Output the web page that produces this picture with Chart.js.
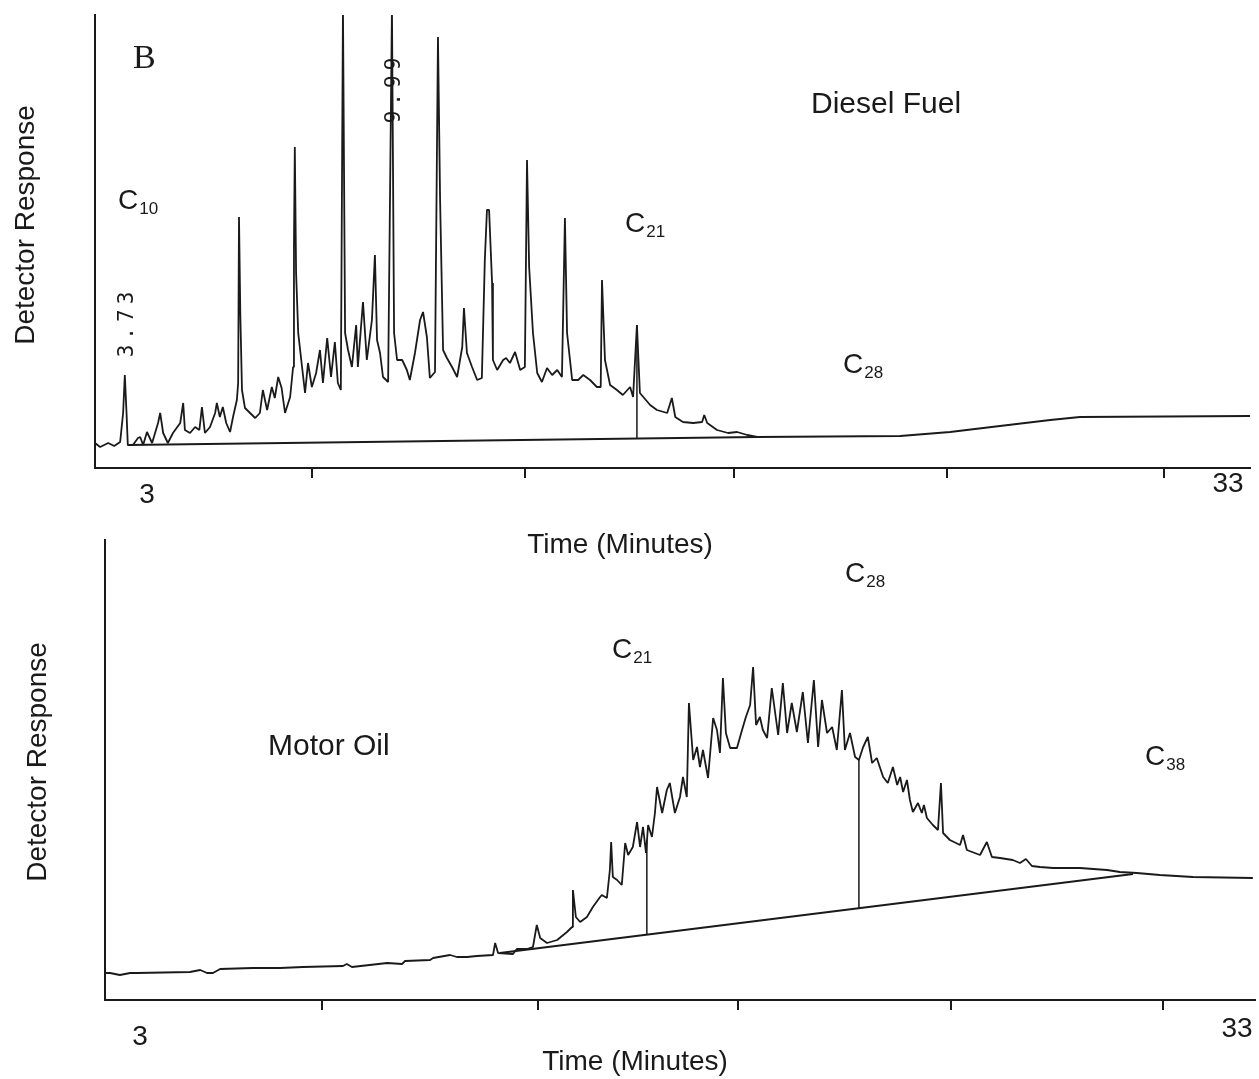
<!DOCTYPE html>
<html>
<head>
<meta charset="utf-8">
<script src="https://cdn.jsdelivr.net/npm/chart.js@4.4.0/dist/chart.umd.min.js"></script>
<style>
  body { margin: 0; background: #fff; }
  #wrap { position: relative; width: 1259px; height: 1079px; background: #fff; }
  canvas { position: absolute; left: 0; }
  #top { top: 0; }
  #bottom { top: 530px; }
</style>
</head>
<body>
<div id="wrap">
  <canvas id="top" width="1259" height="570"></canvas>
  <canvas id="bottom" width="1259" height="549"></canvas>
</div>
<script>
// Diesel fuel chromatogram: [time (min), detector response]
const dieselTrace = [
  [3.00,25],[3.12,21],[3.31,25],[3.45,22],[3.59,26],[3.66,55],[3.70,93],[3.74,55],[3.77,23],[3.89,23],
  [4.01,30],[4.06,31],[4.13,23],[4.22,36],[4.34,25],[4.48,45],[4.53,55],[4.60,35],[4.71,25],[4.83,35],
  [5.00,45],[5.07,65],[5.11,38],[5.23,35],[5.35,41],[5.45,38],[5.51,61],[5.58,35],[5.70,41],[5.82,55],
  [5.86,65],[5.93,51],[6.00,61],[6.08,45],[6.17,36],[6.24,51],[6.33,68],[6.36,85],[6.38,251],[6.41,155],
  [6.45,78],[6.52,60],[6.64,55],[6.76,50],[6.87,55],[6.94,78],[7.04,58],[7.15,81],[7.22,70],[7.30,91],
  [7.38,80],[7.46,55],[7.58,71],[7.65,101],[7.67,221],[7.69,321],[7.72,195],[7.77,135],[7.86,101],[7.93,75],
  [8.00,105],[8.09,81],[8.19,95],[8.28,118],[8.35,85],[8.45,130],[8.54,91],[8.63,126],[8.70,85],[8.77,78],
  [8.82,460],[8.87,135],[8.94,118],[9.03,101],[9.13,143],[9.17,101],[9.29,166],[9.38,108],[9.50,148],[9.57,213],
  [9.62,128],[9.69,115],[9.76,91],[9.88,86],[9.97,460],[10.02,135],[10.09,108],[10.21,108],[10.32,98],[10.39,88],
  [10.51,115],[10.63,148],[10.70,156],[10.79,131],[10.86,90],[10.98,96],[11.05,431],[11.10,268],[11.17,118],[11.26,110],
  [11.38,101],[11.50,91],[11.62,121],[11.66,160],[11.73,115],[11.85,101],[11.97,88],[12.08,90],[12.15,208],[12.20,258],
  [12.25,258],[12.32,185],[12.34,108],[12.44,98],[12.58,108],[12.65,110],[12.74,105],[12.86,116],[12.98,98],[13.09,101],
  [13.14,308],[13.19,201],[13.28,135],[13.38,95],[13.49,86],[13.61,100],[13.73,93],[13.85,98],[13.96,91],[14.03,250],
  [14.08,135],[14.20,88],[14.34,88],[14.46,93],[14.62,88],[14.78,81],[14.87,81],[14.90,188],[14.97,108],[15.09,83],
  [15.25,78],[15.39,73],[15.56,81],[15.63,71],[15.72,143],[15.79,75],[16.03,63],[16.19,58],[16.43,55],[16.54,70],
  [16.62,51],[16.80,46],[17.04,45],[17.25,46],[17.30,53],[17.37,45],[17.60,38],[17.86,35],[18.07,36],[18.31,33],
  [18.54,31],[21.90,32],[23.07,36],[24.24,42],[25.42,48],[26.12,51],[30.11,52]
];
const dieselBaseline = [[3.77,23],[18.54,31]];
const dieselDrop = [[15.72,143],[15.72,30]];

// Motor oil chromatogram
const oilTrace = [
  [3.00,27],[3.12,27],[3.35,25],[3.59,27],[3.75,27],[5.00,28],[5.24,30],[5.40,27],[5.54,27],[5.71,31],
  [6.48,32],[7.12,32],[7.66,33],[8.60,34],[8.69,36],[8.81,33],[9.64,37],[9.99,36],[10.06,39],[10.65,40],
  [10.72,42],[11.12,45],[11.28,43],[11.52,43],[11.75,44],[12.13,45],[12.18,57],[12.25,47],[12.60,46],[12.69,51],
  [12.93,51],[13.07,53],[13.16,75],[13.24,62],[13.40,57],[13.64,60],[13.87,68],[13.99,73],[14.01,110],[14.08,83],
  [14.18,78],[14.34,83],[14.48,93],[14.65,103],[14.69,105],[14.81,102],[14.88,130],[14.91,158],[14.95,123],[15.05,120],
  [15.16,115],[15.24,157],[15.31,145],[15.42,153],[15.52,178],[15.59,153],[15.66,173],[15.73,147],[15.78,175],[15.87,163],
  [15.94,187],[15.99,213],[16.11,187],[16.22,210],[16.29,217],[16.41,187],[16.53,203],[16.60,223],[16.69,203],[16.74,297],
  [16.84,240],[16.93,253],[17.00,233],[17.07,250],[17.19,222],[17.31,282],[17.40,270],[17.47,247],[17.54,322],[17.61,267],
  [17.71,252],[17.87,252],[17.99,270],[18.08,283],[18.18,295],[18.25,333],[18.32,275],[18.41,283],[18.48,270],[18.58,262],
  [18.69,312],[18.76,290],[18.84,265],[18.95,317],[19.05,267],[19.16,297],[19.28,268],[19.42,308],[19.54,257],[19.68,320],
  [19.78,253],[19.87,300],[19.99,267],[20.11,273],[20.22,250],[20.34,310],[20.41,250],[20.53,267],[20.65,243],[20.74,240],
  [20.84,253],[20.95,263],[21.05,237],[21.16,242],[21.31,223],[21.42,217],[21.54,233],[21.64,215],[21.71,223],[21.78,208],
  [21.87,220],[21.94,200],[22.01,188],[22.13,197],[22.22,187],[22.27,195],[22.34,182],[22.48,175],[22.60,170],[22.67,217],
  [22.72,167],[22.88,160],[23.12,155],[23.19,165],[23.28,150],[23.59,145],[23.75,158],[23.87,143],[24.06,142],[24.36,140],
  [24.53,137],[24.67,141],[24.81,134],[25.00,133],[25.31,132],[25.94,132],[26.58,130],[26.88,128],[27.28,127],[27.82,125],
  [28.60,123],[30.01,122]
];
const oilBaseline = [[12.29,47],[27.19,126]];
const oilDrop1 = [[15.75,160],[15.75,66]];
const oilDrop2 = [[20.74,240],[20.74,91]];

// axis ticks (minutes) and end labels
const topTicks = [8.1, 13.1, 18.0, 23.0, 28.1];
const bottomTicks = [8.1, 13.2, 17.9, 22.9, 27.9];
const endLabels = ['3', '33'];

const ink = '#1a1a1a';
const sans = '"Liberation Sans", Arial, sans-serif';

function pts(arr) {
  return arr.map(p => ({x: p[0], y: p[1]}));
}

function line(arr, width) {
  return {
    data: pts(arr),
    borderColor: ink,
    borderWidth: width,
    pointRadius: 0,
    tension: 0,
    borderJoinStyle: 'bevel',
    fill: false
  };
}

function carbon(ctx, n, x, y) {
  ctx.font = '28px ' + sans;
  ctx.textAlign = 'left';
  ctx.textBaseline = 'alphabetic';
  ctx.fillText('C', x, y);
  let w = ctx.measureText('C').width;
  ctx.font = '17px ' + sans;
  ctx.fillText(n, x + w + 1, y + 5);
}

function text(ctx, s, x, y, font, rot) {
  ctx.save();
  ctx.font = font;
  ctx.textAlign = 'center';
  ctx.textBaseline = 'middle';
  ctx.translate(x, y);
  if (rot) ctx.rotate(rot);
  ctx.fillText(s, 0, 0);
  ctx.restore();
}

function makeChart(id, datasets, opt) {
  return new Chart(document.getElementById(id), {
    type: 'line',
    data: {datasets: datasets},
    options: {
      responsive: false,
      animation: false,
      devicePixelRatio: 1,
      layout: {padding: {top: opt.top, right: opt.right, left: 0, bottom: 0}},
      plugins: {legend: {display: false}, tooltip: {enabled: false}},
      scales: {
        x: {
          type: 'linear',
          min: 3,
          max: opt.xmax,
          afterBuildTicks: s => { s.ticks = opt.ticks.map(v => ({value: v})); },
          afterFit: s => { s.height = opt.xh; },
          ticks: {display: false},
          grid: {drawOnChartArea: false, drawTicks: true, tickLength: 10, color: ink, lineWidth: 2},
          border: {color: ink, width: 2}
        },
        y: {
          min: 0,
          max: opt.ymax,
          afterFit: s => { s.width = opt.yw; },
          ticks: {display: false},
          grid: {display: false},
          border: {color: ink, width: 2}
        }
      }
    },
    plugins: [{id: 'notes', afterDraw: c => { c.ctx.save(); c.ctx.fillStyle = ink; opt.notes(c.ctx); c.ctx.restore(); }}]
  });
}

makeChart('top', [
  line(dieselTrace, 1.8),
  line(dieselBaseline, 2),
  line(dieselDrop, 1.5)
], {
  top: 15, right: 9, yw: 95, xh: 102, xmax: 30.11, ymax: 453, ticks: topTicks,
  notes: ctx => {
    ctx.font = '34px "Liberation Serif", serif';
    ctx.textAlign = 'left';
    ctx.fillText('B', 133, 68);
    ctx.font = '30px ' + sans;
    ctx.fillText('Diesel Fuel', 811, 113);
    carbon(ctx, '10', 118, 209);
    carbon(ctx, '21', 625, 232);
    carbon(ctx, '28', 843, 373);
    ctx.letterSpacing = '5px';
    text(ctx, '3.73', 128, 322, '21px "DejaVu Sans Mono", monospace', -Math.PI / 2);
    text(ctx, '9.99', 395, 88, '21px "DejaVu Sans Mono", monospace', -Math.PI / 2);
    ctx.letterSpacing = '0px';
    text(ctx, 'Detector Response', 26, 225, '28px ' + sans, -Math.PI / 2);
    text(ctx, endLabels[0], 147, 495, '28px ' + sans);
    text(ctx, endLabels[1], 1228, 484, '28px ' + sans);
    text(ctx, 'Time (Minutes)', 620, 545, '28px ' + sans);
  }
});

makeChart('bottom', [
  line(oilTrace, 1.8),
  line(oilBaseline, 2.2),
  line(oilDrop1, 1.5),
  line(oilDrop2, 1.5)
], {
  top: 10, right: 4, yw: 105, xh: 79, xmax: 30.06, ymax: 460, ticks: bottomTicks,
  notes: ctx => {
    carbon(ctx, '28', 845, 52);
    carbon(ctx, '21', 612, 128);
    carbon(ctx, '38', 1145, 235);
    ctx.font = '30px ' + sans;
    ctx.textAlign = 'left';
    ctx.fillText('Motor Oil', 268, 225);
    text(ctx, 'Detector Response', 38, 232, '28px ' + sans, -Math.PI / 2);
    text(ctx, endLabels[0], 140, 507, '28px ' + sans);
    text(ctx, endLabels[1], 1237, 499, '28px ' + sans);
    text(ctx, 'Time (Minutes)', 635, 532, '28px ' + sans);
  }
});
</script>
</body>
</html>
